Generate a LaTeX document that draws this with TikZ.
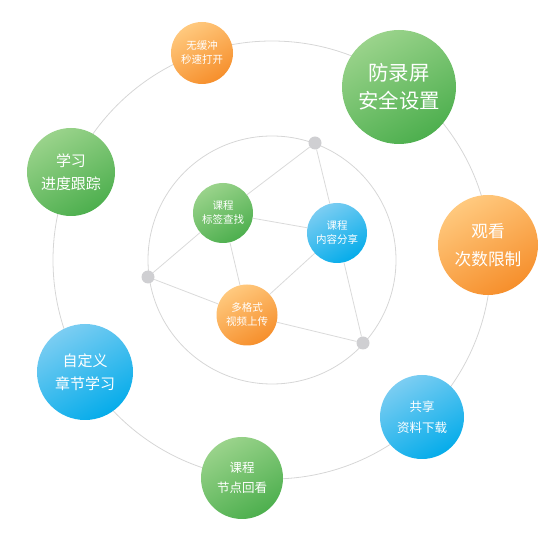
\documentclass[tikz,border=0pt]{standalone}
\usepackage{fontspec}
\newfontfamily\cjk{Noto Sans CJK SC}
\definecolor{ringgray}{HTML}{D6D6D6}
\definecolor{linkgray}{HTML}{DADADA}
\definecolor{dotgray}{HTML}{CFCFD2}
\definecolor{gA}{HTML}{9AD38B}
\definecolor{gB}{HTML}{4DAF4E}
\definecolor{oA}{HTML}{FFC97E}
\definecolor{oB}{HTML}{F68F2C}
\definecolor{bA}{HTML}{7BCDF2}
\definecolor{bB}{HTML}{05ACEA}
\begin{document}
\begin{tikzpicture}[x=1pt,y=-1pt,
  ring/.style={draw=ringgray, line width=0.8pt},
  link/.style={draw=linkgray, line width=0.8pt},
  bubble/.style={circle, inner sep=0pt, text=white, align=center},
  greenb/.style={bubble, top color=gA, bottom color=gB, shading angle=30},
  orangeb/.style={bubble, top color=oA, bottom color=oB, shading angle=30},
  blueb/.style={bubble, top color=bA, bottom color=bB, shading angle=30},
  tiny/.style={font=\cjk\fontsize{10.5}{14}\selectfont},
  small/.style={font=\cjk\fontsize{12.5}{20.5}\selectfont},
  mid/.style={font=\cjk\fontsize{15}{23}\selectfont},
  big/.style={font=\cjk\fontsize{16.7}{28}\selectfont},
  huge/.style={font=\cjk\fontsize{20.4}{28}\selectfont},
  dotn/.style={circle, fill=dotgray, minimum size=13pt, inner sep=0pt}
]
\useasboundingbox (0,0) rectangle (560,534);
\coordinate (c) at (272,260);
\draw[ring] (c) circle[radius=219];
\draw[ring] (c) circle[radius=124];

% inner ring dots
\node[dotn] (d1) at (315,143) {};
\node[dotn] (d2) at (148,277) {};
\node[dotn] (d3) at (363,343) {};

% inner nodes
\node[greenb, tiny, minimum size=60pt] (a) at (223,213) {课程\\标签查找};
\node[blueb, tiny, minimum size=60pt] (b) at (337,233) {课程\\内容分享};
\node[orangeb, tiny, minimum size=61pt] (m) at (247,315) {多格式\\视频上传};

\draw[link] (d1) -- (a);
\draw[link] (d1) -- (b);
\draw[link] (d2) -- (a);
\draw[link] (d2) -- (m);
\draw[link] (a) -- (b);
\draw[link] (a) -- (m);
\draw[link] (m) -- (b);
\draw[link] (m) -- (d3);
\draw[link] (b) -- (d3);

% outer nodes
\node[orangeb, tiny, minimum size=62pt] (o1) at (202,53) {无缓冲\\秒速打开};
\node[greenb, huge, minimum size=114pt] (o2) at (399,87) {防录屏\\安全设置};
\node[orangeb, big, minimum size=100pt] (o3) at (488,245) {观看\\次数限制};
\node[blueb, small, minimum size=84pt] (o4) at (422,417) {共享\\资料下载};
\node[greenb, small, minimum size=82pt] (o5) at (242,478) {课程\\节点回看};
\node[blueb, mid, minimum size=96pt] (o6) at (85,372) {自定义\\章节学习};
\node[greenb, mid, minimum size=88pt] (o7) at (71,172) {学习\\进度跟踪};
\end{tikzpicture}
\end{document}
